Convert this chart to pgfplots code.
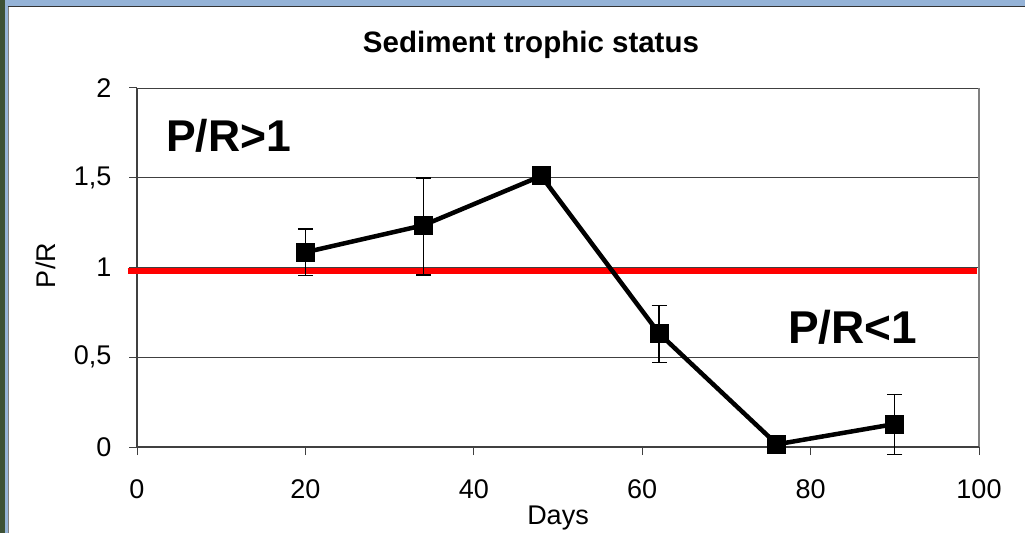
\documentclass[border=0pt]{standalone}
\usepackage{pgfplots}
\pgfplotsset{compat=1.18}
\usepackage{fontspec}
\setmainfont{Liberation Sans}
\definecolor{frameblue}{HTML}{95B3D7}
\definecolor{framegreen}{HTML}{3D5135}
\begin{document}
\begin{tikzpicture}[x=1pt,y=1pt]
\useasboundingbox (0,0) rectangle (1025,533);
\fill[white] (0,0) rectangle (1025,533);
\fill[framegreen] (0,0) rectangle (5,533);
\fill[frameblue] (5,0) rectangle (8,533);
\fill[frameblue] (5,526) rectangle (1025,533);
\draw[black!80, line width=1pt] (8,526) -- (1025,526);
\draw[gray, line width=0.8pt] (8.4,0) -- (8.4,526);
\begin{axis}[
 at={(137pt,86pt)}, anchor=south west,
 scale only axis, width=842pt, height=359pt,
 xmin=0, xmax=100, ymin=0, ymax=2,
 xtick={0,20,40,60,80,100}, ytick={0,0.5,1,1.5,2},
 xticklabels={0,20,40,60,80,100},
 yticklabels={0,{0,5},1,{1,5},2},
 tick align=outside, tick pos=left, major tick length=8pt,
 tick style={black!75, line width=1pt},
 axis line style={draw=none},
 ymajorgrids, grid style={black!75, line width=0.8pt},
 ticklabel style={font=\fontsize{27}{32}\selectfont},
 xticklabel style={yshift=-21pt}, yticklabel style={xshift=-14pt},
 clip=false,
]
\draw[gray, line width=2pt] (axis cs:100,0) -- (axis cs:100,2);
\draw[black!75, line width=1.3pt] (axis cs:0,2) -- (axis cs:0,0) -- (axis cs:100,0);
\addplot[red, line width=6pt, forget plot] coordinates {(-1.1,0.978) (99.8,0.978)};
\addplot[black, line width=4.5pt, line join=round, mark=square*,
  mark size=9pt, mark options={solid, line width=0pt},
  error bars/.cd, y dir=both, y explicit,
  error bar style={line width=1.2pt, black},
  error mark options={rotate=90, mark size=7.5pt, line width=1.2pt, black}]
 coordinates {
 (20,1.085) += (0,0.129) -= (0,0.131)
 (34,1.235) += (0,0.264) -= (0,0.277)
 (48,1.51)  += (0,0) -= (0,0)
 (62,0.633) += (0,0.154) -= (0,0.163)
 (76,0.015) += (0,0) -= (0,0)
 (90,0.128) += (0,0.166) -= (0,0.168)
 };
\end{axis}
\node[font=\fontsize{29.5}{34}\selectfont\bfseries, anchor=base] at (531,480) {Sediment trophic status};
\node[font=\fontsize{27}{32}\selectfont, anchor=base] at (558,9) {Days};
\node[font=\fontsize{27}{32}\selectfont, rotate=90, anchor=base] at (55,267.5) {P/R};
\node[font=\fontsize{44.5}{52}\selectfont\bfseries, anchor=base west, inner sep=0pt] at (166,381) {P/R>1};
\node[font=\fontsize{46}{54}\selectfont\bfseries, anchor=base west, inner sep=0pt] at (788,189) {P/R<1};
\end{tikzpicture}
\end{document}
